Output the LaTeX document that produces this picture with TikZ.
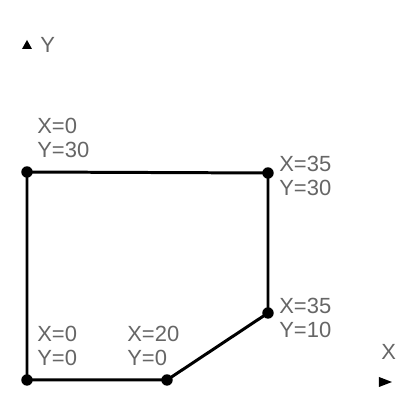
\documentclass[tikz,border=0pt]{standalone}
\usepackage{fontspec}
\setmainfont{Liberation Sans}
\begin{document}
\begin{tikzpicture}[x=0.02cm,y=-0.02cm,line cap=round,line join=round,
  lbl/.style={anchor=west,align=left,text=black!60,font=\fontsize{12.5}{13.8}\selectfont,inner sep=0pt},
  vtx/.style={circle,fill=black,inner sep=0pt,minimum size=6.5pt}]
  \useasboundingbox (0,0) rectangle (407,394);
  \node[vtx] (p0) at (27,380) {};
  \node[vtx] (p1) at (167,380) {};
  \node[vtx] (p2) at (268,313) {};
  \node[vtx] (p3) at (268,173) {};
  \node[vtx] (p4) at (27,172) {};
  \draw[line width=1.7pt] (p0.center)--(p1.center)--(p2.center)--(p3.center)--(p4.center)--cycle;
  \node[lbl] (l4) at (37,138) {X=0\\Y=30};
  \node[lbl] (l3) at (279,176) {X=35\\Y=30};
  \node[lbl] (l2) at (279,318) {X=35\\Y=10};
  \node[lbl] (l0) at (37,346) {X=0\\Y=0};
  \node[lbl] (l1) at (127,346) {X=20\\Y=0};
  % axes
  \node[lbl] (ylab) at (40,45) {Y};
  \fill (22,49)--(32,49)--(27,40)--cycle;
  \node[lbl] (xlab) at (381,352) {X};
  \fill (379,377)--(392,382)--(379,387)--cycle;
\end{tikzpicture}
\end{document}
